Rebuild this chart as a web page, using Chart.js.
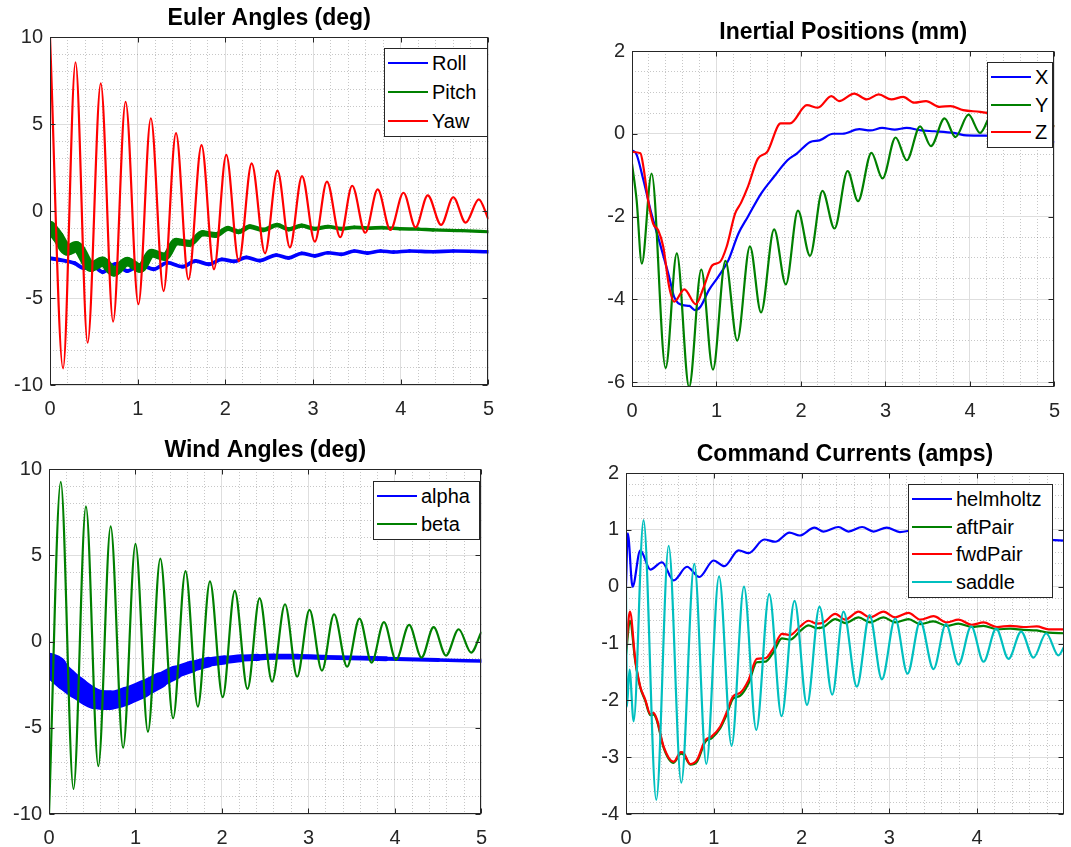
<!DOCTYPE html>
<html>
<head>
<meta charset="utf-8">
<script src="https://cdn.jsdelivr.net/npm/chart.js@4.4.0/dist/chart.umd.min.js"></script>
<style>
  html, body { margin: 0; padding: 0; background: #fff; overflow: hidden; }
  #page { position: relative; width: 1071px; height: 847px; overflow: hidden; font-family: "Liberation Sans", Arial, sans-serif; }
  .panel { position: absolute; }
  .legend { position: absolute; background: #fff; border: 1.5px solid #262626; box-sizing: border-box; }
  .legend .swatch { position: absolute; height: 2px; }
  .legend .label { position: absolute; font-size: 20px; line-height: 20px; color: #000; white-space: nowrap; }
</style>
</head>
<body>
<div id="page"></div>
<script>
// ---- data: [time (s), value] ----
// Euler angles (deg)
const roll = [[0,-2.72],[0.1,-2.8],[0.28,-3.0],[0.39,-3.29],[0.45,-2.95],[0.6,-3.5],[0.75,-3.05],[0.88,-3.45],[1.03,-3.1],[1.18,-3.35],[1.34,-2.97],[1.51,-3.2],[1.66,-2.87],[1.81,-3.06],[1.96,-2.78],[2.1,-2.9],[2.24,-2.66],[2.39,-2.85],[2.58,-2.53],[2.72,-2.7],[2.87,-2.43],[3.02,-2.58],[3.17,-2.4],[3.32,-2.49],[3.47,-2.3],[3.62,-2.42],[3.77,-2.3],[3.92,-2.36],[4.1,-2.3],[4.37,-2.34],[4.6,-2.3],[5,-2.34]];
const pitch = [[0,-0.9],[0.09,-1.48],[0.2,-2.24],[0.3,-2.05],[0.47,-3.2],[0.6,-2.91],[0.73,-3.49],[0.88,-2.91],[1.03,-3.29],[1.16,-2.43],[1.31,-2.63],[1.44,-1.76],[1.59,-1.86],[1.74,-1.28],[1.89,-1.38],[2.03,-1.0],[2.15,-1.2],[2.28,-0.9],[2.43,-1.09],[2.59,-0.8],[2.72,-1.05],[2.87,-0.84],[3.02,-1.02],[3.17,-0.9],[3.32,-1.02],[3.47,-0.94],[3.62,-0.98],[3.8,-0.96],[3.99,-1.02],[4.2,-1.04],[4.37,-1.09],[4.7,-1.13],[5,-1.19]];
const yaw = [[0,10],[0.149,-9.04],[0.291,8.55],[0.429,-7.57],[0.579,7.34],[0.72,-6.36],[0.862,6.28],[1.008,-5.36],[1.15,5.33],[1.295,-4.6],[1.437,4.47],[1.579,-3.93],[1.728,3.79],[1.87,-3.35],[2.01,3.22],[2.153,-2.89],[2.3,2.74],[2.452,-2.43],[2.594,2.32],[2.736,-2.09],[2.874,2.01],[3.02,-1.76],[3.158,1.69],[3.31,-1.51],[3.446,1.45],[3.595,-1.25],[3.737,1.24],[3.882,-1.09],[4.031,1.05],[4.169,-0.94],[4.308,0.9],[4.46,-0.8],[4.599,0.79],[4.74,-0.67],[4.89,0.67],[5,-0.48]];

// Inertial positions (mm)
const posX = [[0,-0.4],[0.05,-0.48],[0.135,-1.12],[0.23,-1.93],[0.33,-2.65],[0.44,-3.46],[0.5,-3.95],[0.6,-4.14],[0.68,-4.16],[0.745,-4.26],[0.81,-4.18],[0.91,-3.78],[1.02,-3.46],[1.14,-3.06],[1.26,-2.41],[1.37,-2.01],[1.53,-1.44],[1.68,-1.04],[1.84,-0.64],[1.95,-0.48],[2.11,-0.2],[2.22,-0.16],[2.38,0.0],[2.49,0.0],[2.69,0.11],[2.82,0.08],[2.96,0.14],[3.11,0.1],[3.25,0.14],[3.42,0.08],[3.58,0.06],[3.81,0.02],[3.96,-0.04],[4.3,-0.05],[4.7,-0.12],[5,-0.2]];
const posY = [[0,-0.72],[0.055,-1.61],[0.116,-3.14],[0.232,-0.96],[0.398,-5.66],[0.53,-2.89],[0.676,-6.13],[0.82,-3.28],[0.958,-5.7],[1.106,-3.07],[1.245,-5.0],[1.396,-2.72],[1.527,-4.32],[1.682,-2.31],[1.821,-3.64],[1.964,-1.86],[2.107,-2.95],[2.254,-1.38],[2.397,-2.29],[2.552,-0.9],[2.675,-1.63],[2.834,-0.46],[2.965,-1.08],[3.12,-0.09],[3.252,-0.64],[3.41,0.18],[3.538,-0.3],[3.7,0.37],[3.828,-0.08],[3.983,0.46],[4.12,0.02],[4.27,0.5],[4.4,0.12],[4.55,0.5],[4.68,0.18],[4.83,0.45],[5,0.17]];
const posZ = [[0,-0.44],[0.1,-0.47],[0.135,-0.8],[0.19,-1.6],[0.25,-2.17],[0.31,-2.33],[0.37,-2.73],[0.44,-3.7],[0.5,-4.06],[0.62,-3.76],[0.755,-4.12],[0.85,-3.7],[0.95,-3.18],[1.04,-3.1],[1.12,-2.73],[1.22,-1.93],[1.29,-1.67],[1.37,-1.29],[1.49,-0.6],[1.6,-0.44],[1.76,0.25],[1.87,0.25],[2.07,0.69],[2.2,0.63],[2.36,0.91],[2.45,0.79],[2.63,0.97],[2.78,0.83],[2.92,0.95],[3.07,0.83],[3.21,0.89],[3.34,0.75],[3.48,0.79],[3.64,0.65],[3.77,0.67],[3.92,0.57],[4.12,0.53],[4.5,0.4],[4.93,0.2],[5,0.18]];

// Wind angles (deg)
const alpha = [[0,-1.35],[0.07,-1.5],[0.105,-1.75],[0.2,-2.2],[0.33,-2.7],[0.52,-3.3],[0.71,-3.4],[0.9,-3.15],[1.09,-2.75],[1.28,-2.25],[1.46,-1.8],[1.65,-1.46],[1.84,-1.2],[2.03,-1.07],[2.22,-0.97],[2.41,-0.92],[2.6,-0.88],[2.88,-0.88],[3.2,-0.92],[3.9,-1.0],[4.5,-1.07],[5,-1.13]];
const beta = [[0,-10],[0.136,9.25],[0.283,-8.55],[0.427,7.83],[0.57,-7.22],[0.713,6.67],[0.857,-6.16],[1.0,5.66],[1.144,-5.23],[1.287,4.81],[1.435,-4.45],[1.578,4.08],[1.721,-3.78],[1.861,3.48],[2.008,-3.23],[2.148,2.94],[2.295,-2.75],[2.435,2.51],[2.579,-2.33],[2.729,2.16],[2.869,-2.04],[3.012,1.83],[3.156,-1.69],[3.296,1.58],[3.447,-1.46],[3.59,1.33],[3.73,-1.22],[3.873,1.12],[4.012,-1.07],[4.164,0.96],[4.307,-0.93],[4.447,0.83],[4.59,-0.82],[4.737,0.71],[4.881,-0.64],[5,0.57]];

// Command currents (amps)
const helmholtz = [[0,0],[0.02,0.94],[0.075,0.0],[0.163,0.64],[0.277,0.3],[0.41,0.43],[0.543,0.11],[0.695,0.35],[0.835,0.17],[0.998,0.46],[1.12,0.36],[1.283,0.64],[1.397,0.59],[1.575,0.83],[1.7,0.79],[1.863,0.95],[1.977,0.9],[2.148,1.04],[2.25,0.97],[2.42,1.05],[2.535,0.97],[2.69,1.05],[2.82,0.97],[2.97,1.04],[3.12,0.96],[3.3,1.0],[3.6,0.95],[4.0,0.9],[4.5,0.85],[4.99,0.81]];
const aftPair = [[0,-1.2],[0.045,-0.6],[0.106,-1.32],[0.163,-1.78],[0.22,-2.01],[0.277,-2.26],[0.314,-2.25],[0.353,-2.36],[0.428,-2.83],[0.542,-3.1],[0.626,-2.94],[0.66,-2.96],[0.732,-3.13],[0.808,-3.08],[0.903,-2.73],[0.98,-2.66],[1.074,-2.49],[1.15,-2.24],[1.219,-1.97],[1.3,-1.92],[1.397,-1.7],[1.49,-1.33],[1.587,-1.32],[1.68,-1.15],[1.776,-0.91],[1.87,-0.93],[1.985,-0.78],[2.08,-0.68],[2.175,-0.73],[2.25,-0.71],[2.384,-0.57],[2.497,-0.64],[2.65,-0.54],[2.78,-0.63],[2.934,-0.54],[3.067,-0.63],[3.219,-0.57],[3.352,-0.66],[3.503,-0.61],[3.656,-0.69],[3.788,-0.65],[3.94,-0.71],[4.073,-0.69],[4.225,-0.75],[4.377,-0.74],[4.53,-0.76],[4.68,-0.77],[4.813,-0.81],[4.99,-0.82]];
const fwdPair = [[0,-1.1],[0.045,-0.44],[0.106,-1.29],[0.163,-1.76],[0.22,-1.99],[0.277,-2.24],[0.314,-2.22],[0.353,-2.34],[0.428,-2.81],[0.542,-3.08],[0.626,-2.91],[0.66,-2.93],[0.732,-3.12],[0.808,-3.05],[0.903,-2.7],[0.98,-2.63],[1.074,-2.46],[1.15,-2.2],[1.219,-1.93],[1.3,-1.87],[1.397,-1.64],[1.49,-1.27],[1.587,-1.26],[1.68,-1.08],[1.776,-0.83],[1.87,-0.85],[1.985,-0.7],[2.08,-0.6],[2.175,-0.65],[2.25,-0.63],[2.384,-0.48],[2.497,-0.58],[2.65,-0.44],[2.78,-0.54],[2.934,-0.44],[3.067,-0.54],[3.219,-0.46],[3.352,-0.58],[3.503,-0.52],[3.656,-0.63],[3.788,-0.58],[3.94,-0.67],[4.073,-0.63],[4.225,-0.71],[4.377,-0.69],[4.53,-0.71],[4.68,-0.7],[4.813,-0.75],[4.99,-0.75]];
const saddle = [[0,0],[0.01,-2.11],[0.04,-1.46],[0.087,-2.37],[0.2,1.17],[0.345,-3.75],[0.486,0.72],[0.63,-3.45],[0.778,0.4],[0.915,-3.12],[1.06,0.18],[1.203,-2.8],[1.344,0.0],[1.484,-2.52],[1.632,-0.13],[1.772,-2.28],[1.92,-0.25],[2.062,-2.08],[2.205,-0.35],[2.35,-1.9],[2.478,-0.44],[2.63,-1.76],[2.775,-0.5],[2.915,-1.63],[3.067,-0.56],[3.207,-1.53],[3.352,-0.61],[3.503,-1.45],[3.645,-0.66],[3.788,-1.37],[3.933,-0.7],[4.073,-1.32],[4.218,-0.74],[4.358,-1.27],[4.502,-0.79],[4.642,-1.25],[4.787,-0.82],[4.927,-1.21],[4.99,-1.06]];

// ---- styling ----
const BLUE = '#0000ff', GREEN = '#008000', RED = '#ff0000', CYAN = '#00bfbf';
const AXIS = '#262626';
const FONT = '"Liberation Sans", Arial, sans-serif';

// thickness of the noisy traces, [time, px]
const rollBand = [[0,4],[5,3.5]];
const pitchBand = [[0,12],[0.5,10],[1,9],[1.5,7],[2,5],[3,4],[5,3]];
const alphaBand = [[0,24],[0.5,20],[1,17],[1.5,12],[2,8],[2.5,6],[3,5],[5,3]];

const YW = 48, XH = 45, TH = 30, PR = 8;

Chart.defaults.font.family = FONT;
Chart.defaults.color = AXIS;

function isMultiple(v, step) {
    const r = v / step;
    return Math.abs(r - Math.round(r)) < 1e-6;
}

function widthAt(table, t) {
    for (let i = 1; i < table.length; i++) {
        if (t <= table[i][0]) {
            const [t0, w0] = table[i - 1], [t1, w1] = table[i];
            return w0 + (w1 - w0) * (t - t0) / (t1 - t0);
        }
    }
    return table[table.length - 1][1];
}

// box + inward major ticks on all four sides, like the matlab axes
const framePlugin = {
    id: 'frame',
    afterDraw(chart, args, opts) {
        const {ctx, chartArea: a, scales} = chart;
        const L = Math.round(a.left) + 0.5, R = Math.round(a.right) - 0.5;
        const T = Math.round(a.top) + 0.5, B = Math.round(a.bottom) - 0.5;
        ctx.save();
        ctx.strokeStyle = AXIS;
        ctx.lineWidth = 1;
        ctx.strokeRect(L, T, R - L, B - T);
        ctx.beginPath();
        scales.x.ticks.forEach(tk => {
            if (!isMultiple(tk.value, opts.xMajor)) return;
            const px = Math.round(scales.x.getPixelForValue(tk.value)) + 0.5;
            ctx.moveTo(px, B); ctx.lineTo(px, B - 5);
            ctx.moveTo(px, T); ctx.lineTo(px, T + 5);
        });
        scales.y.ticks.forEach(tk => {
            if (!isMultiple(tk.value, opts.yMajor)) return;
            const py = Math.round(scales.y.getPixelForValue(tk.value)) + 0.5;
            ctx.moveTo(L, py); ctx.lineTo(L + 5, py);
            ctx.moveTo(R, py); ctx.lineTo(R - 5, py);
        });
        ctx.stroke();
        ctx.restore();
    }
};

function axisOptions(ax, horizontal) {
    return {
        type: 'linear',
        min: ax.min,
        max: ax.max,
        afterFit: s => { if (horizontal) s.height = XH; else s.width = YW; },
        ticks: {
            stepSize: ax.minor,
            includeBounds: false,
            autoSkip: false,
            maxTicksLimit: 1000,
            maxRotation: 0,
            minRotation: 0,
            padding: horizontal ? 12 : 7,
            color: AXIS,
            font: { size: 20 },
            callback: v => isMultiple(v, ax.major) ? String(Math.round(v)) : ''
        },
        grid: {
            drawTicks: false,
            lineWidth: 1,
            color: c => (c.tick && isMultiple(c.tick.value, ax.major)) ? '#dedede' : 'rgba(0,0,0,0.22)'
        },
        border: {
            display: false,
            dash: c => (c.tick && !isMultiple(c.tick.value, ax.major)) ? [1, 2] : []
        }
    };
}

const panels = [
    {
        title: 'Euler Angles (deg)', box: [50, 37, 448, 348], legend: [384, 48, 104, 89],
        x: {min: 0, max: 5, minor: 0.2, major: 1}, y: {min: -10, max: 10, minor: 1, major: 5},
        series: [
            {label: 'Roll', data: roll, color: BLUE, band: rollBand},
            {label: 'Pitch', data: pitch, color: GREEN, band: pitchBand},
            {label: 'Yaw', data: yaw, color: RED}
        ]
    },
    {
        title: 'Inertial Positions (mm)', box: [632, 51, 432, 336], legend: [987, 62, 66, 86],
        x: {min: 0, max: 5, minor: 0.2, major: 1}, y: {min: -6.12, max: 2, minor: 0.5, major: 2},
        series: [
            {label: 'X', data: posX, color: BLUE},
            {label: 'Y', data: posY, color: GREEN},
            {label: 'Z', data: posZ, color: RED}
        ]
    },
    {
        title: 'Wind Angles (deg)', box: [49, 469, 442, 345], legend: [373, 481, 107, 59],
        x: {min: 0, max: 5, minor: 0.2, major: 1}, y: {min: -10, max: 10, minor: 1, major: 5},
        series: [
            {label: 'alpha', data: alpha, color: BLUE, band: alphaBand},
            {label: 'beta', data: beta, color: GREEN}
        ]
    },
    {
        title: 'Command Currents (amps)', box: [626, 473, 438, 341], legend: [908, 484, 145, 114],
        x: {min: 0, max: 4.99, minor: 0.2, major: 1}, y: {min: -4, max: 2, minor: 0.2, major: 1},
        series: [
            {label: 'helmholtz', data: helmholtz, color: BLUE},
            {label: 'aftPair', data: aftPair, color: GREEN},
            {label: 'fwdPair', data: fwdPair, color: RED},
            {label: 'saddle', data: saddle, color: CYAN}
        ]
    }
];

const page = document.getElementById('page');

panels.forEach(p => {
    const [L, T, W, H] = p.box;
    const holder = document.createElement('div');
    holder.className = 'panel';
    holder.style.left = (L - YW) + 'px';
    holder.style.top = (T - TH) + 'px';
    holder.style.width = (W + YW + PR) + 'px';
    holder.style.height = (H + TH + XH) + 'px';
    const canvas = document.createElement('canvas');
    holder.appendChild(canvas);
    page.appendChild(holder);

    const n = p.series.length;
    const datasets = p.series.map((s, i) => {
        const ds = {
            label: s.label,
            data: s.data.map(([t, v]) => ({x: t, y: v})),
            borderColor: s.color,
            borderWidth: 2.2,
            pointRadius: 0,
            cubicInterpolationMode: 'monotone',
            clip: 0,
            order: n - 1 - i   // later series drawn on top
        };
        if (s.band) {
            ds.borderCapStyle = 'round';
            ds.borderJoinStyle = 'round';
            ds.segment = { borderWidth: c => widthAt(s.band, c.p0.parsed.x) };
        }
        return ds;
    });

    new Chart(canvas, {
        type: 'line',
        data: { datasets },
        options: {
            responsive: true,
            maintainAspectRatio: false,
            animation: false,
            events: [],
            layout: { autoPadding: false, padding: { left: 0, top: 0, right: PR, bottom: 0 } },
            scales: { x: axisOptions(p.x, true), y: axisOptions(p.y, false) },
            plugins: {
                legend: { display: false },
                tooltip: { enabled: false },
                title: {
                    display: true,
                    fullSize: false,
                    text: p.title,
                    color: '#000',
                    font: { size: 23, weight: 'bold', lineHeight: 1 },
                    padding: { top: 0, bottom: TH - 23 }
                },
                frame: { xMajor: p.x.major, yMajor: p.y.major }
            }
        },
        plugins: [framePlugin]
    });

    // legend box drawn inside the axes, top right
    const [lx, ly, lw, lh] = p.legend;
    const box = document.createElement('div');
    box.className = 'legend';
    box.style.left = lx + 'px';
    box.style.top = ly + 'px';
    box.style.width = lw + 'px';
    box.style.height = lh + 'px';
    p.series.forEach((s, i) => {
        const cy = (lh - 3) * (i + 0.5) / n;
        const sw = document.createElement('div');
        sw.className = 'swatch';
        sw.style.left = '3px';
        sw.style.width = '40px';
        sw.style.top = (cy - 1) + 'px';
        sw.style.background = s.color;
        const lab = document.createElement('div');
        lab.className = 'label';
        lab.style.left = '47px';
        lab.style.top = (cy - 10) + 'px';
        lab.textContent = s.label;
        box.appendChild(sw);
        box.appendChild(lab);
    });
    page.appendChild(box);
});
</script>
</body>
</html>
